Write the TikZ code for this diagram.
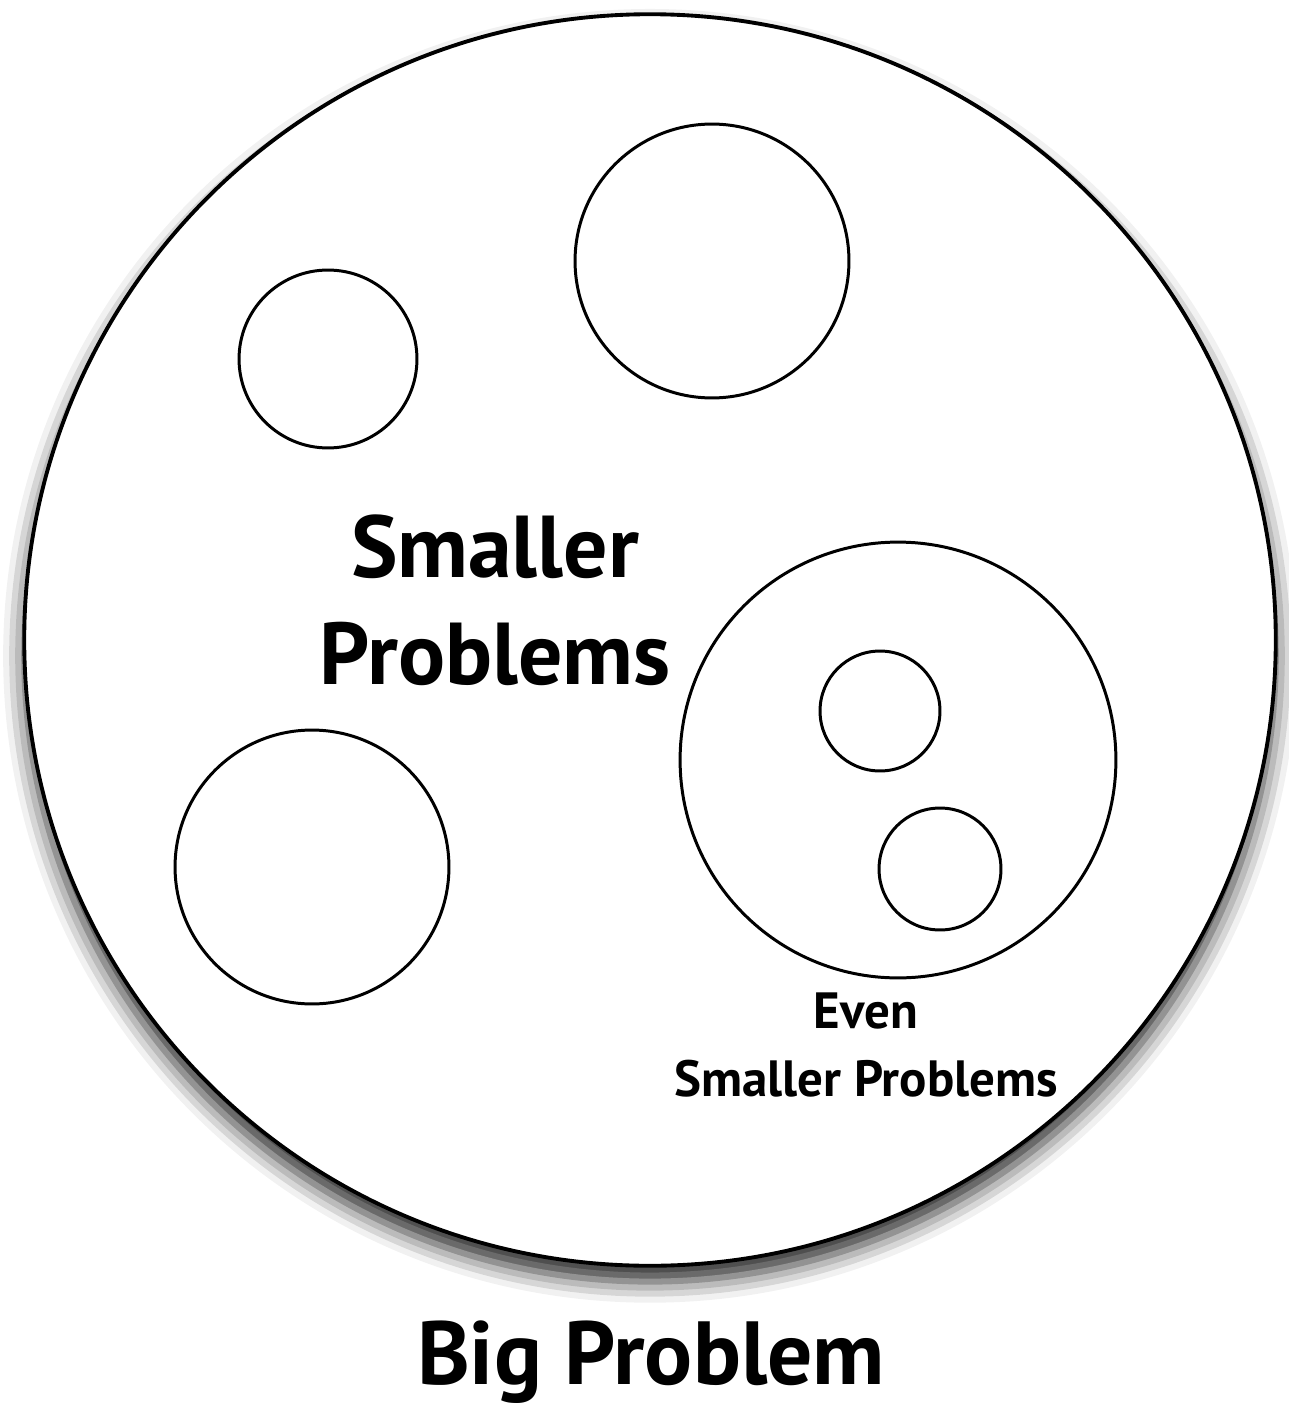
\documentclass[tikz,border=0pt]{standalone}
\usepackage{fontspec}
\setmainfont{PT Sans}
\usetikzlibrary{shadows.blur}

\begin{document}
\begin{tikzpicture}[x=0.02cm, y=-0.02cm,
  prob/.style={circle, draw=black, fill=white, line width=1.7pt, inner sep=0pt,
               minimum size={#1*0.04cm}},
  bigprob/.style={circle, draw=black, fill=white, line width=2.2pt, inner sep=0pt,
               minimum size={#1*0.04cm},
               blur shadow={shadow xshift=0pt, shadow yshift=-9pt,
                            shadow blur radius=12pt, shadow opacity=85}},
  lbl/.style={font=\bfseries, align=center, inner sep=0pt}
]
  \useasboundingbox (0,0) rectangle (1288,1409);

  % Big problem
  \node[bigprob=626] (big) at (650,640) {};
  \node[lbl, font=\fontsize{51}{60}\selectfont\bfseries, anchor=base] (bigtxt) at (651,1384) {Big Problem};

  % Smaller problems
  \node[prob=89] (sm1) at (328,359) {};
  \node[prob=137] (sm2) at (712,261) {};
  \node[prob=137] (sm3) at (312,867) {};
  \node[prob=218] (sm4) at (898,760) {};
  \node[lbl, font=\fontsize{50}{61}\selectfont\bfseries] (smtxt) at (495,600) {Smaller\\Problems};

  % Even smaller problems
  \node[lbl, font=\fontsize{29}{38.7}\selectfont\bfseries] (evtxt) at (866,1045) {Even\\Smaller Problems};
  \node[prob=60] (ev1) at (880,711) {};
  \node[prob=61] (ev2) at (940,869) {};
\end{tikzpicture}
\end{document}
